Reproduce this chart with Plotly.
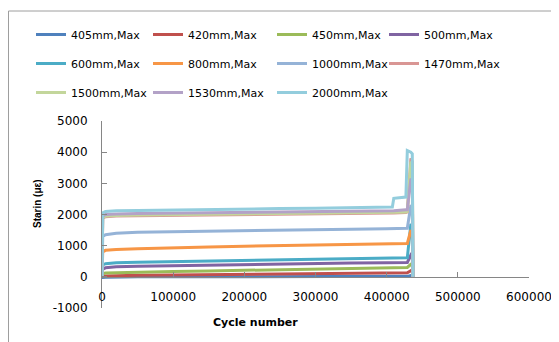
import plotly.graph_objects as go

cycles = [0, 1000, 5000, 20000, 50000, 100000, 150000, 200000, 250000, 300000,
          350000, 400000, 408000, 410000, 427000, 429000, 434000, 436000, 437000]

names = ["405mm,Max", "420mm,Max", "450mm,Max", "500mm,Max",
         "600mm,Max", "800mm,Max", "1000mm,Max", "1470mm,Max",
         "1500mm,Max", "1530mm,Max", "2000mm,Max"]

s405 = [0, -20, -10, 0, 0, 0, 5, 5, 10, 10, 10, 15, 15, 15, 15, 15, 40, 30, 0]
s420 = [0, 20, 30, 40, 50, 60, 70, 80, 90, 100, 110, 120, 125, 130, 130, 130, 200, 180, 0]
s450 = [0, 100, 120, 130, 150, 170, 190, 210, 230, 250, 270, 290, 290, 300, 300, 300, 400, 380, 0]
s500 = [0, 250, 290, 320, 340, 360, 380, 400, 410, 430, 440, 450, 450, 460, 460, 460, 700, 650, 0]
s600 = [0, 380, 420, 450, 470, 490, 510, 530, 550, 570, 590, 600, 600, 610, 610, 610, 1700, 1600, 0]
s800 = [0, 800, 850, 880, 900, 940, 960, 980, 1000, 1020, 1040, 1050, 1060, 1060, 1070, 1070, 1500, 1400, 0]
s1000 = [0, 1300, 1350, 1400, 1430, 1450, 1470, 1480, 1500, 1510, 1530, 1540, 1550, 1550, 1560, 1560, 2300, 2250, 0]
s1470 = [0, 1880, 1930, 1950, 1960, 1970, 1980, 1990, 2000, 2010, 2020, 2030, 2040, 2050, 2060, 2080, 3800, 3700, 0]
s1500 = [0, 1900, 1950, 1970, 1980, 1990, 2000, 2010, 2020, 2030, 2040, 2050, 2060, 2070, 2080, 2100, 3700, 3600, 0]
s1530 = [0, 1950, 2000, 2020, 2030, 2040, 2050, 2060, 2070, 2080, 2090, 2100, 2110, 2120, 2150, 2150, 3150, 3100, 0]
s2000 = [0, 2050, 2100, 2120, 2130, 2150, 2170, 2180, 2190, 2200, 2210, 2230, 2240, 2520, 2560, 4050, 4000, 3950, 0]

series = [s405, s420, s450, s500, s600, s800, s1000, s1470, s1500, s1530, s2000]
colors = ["#4F81BD", "#C0504D", "#9BBB59", "#8064A2", "#4BACC6", "#F79646",
          "#95B3D7", "#D99694", "#C3D69B", "#B3A2C7", "#93CDDD"]

x_ticks = [0, 100000, 200000, 300000, 400000, 500000, 600000]
y_ticks = [-1000, 0, 1000, 2000, 3000, 4000, 5000]

# page has an 8px body margin; work in screen pixels and convert
OFF = 8
W, H = 559 - OFF, 342 - OFF
# plot area in screen pixels: x 102..529, y 121..308
PX0, PX1, PY0, PY1 = 102, 529, 121, 308
L, R, T, B = PX0 - OFF, W - (PX1 - OFF), PY0 - OFF, H - (PY1 - OFF)
pw, ph = PX1 - PX0, PY1 - PY0


def px_x(s):
    return (s - PX0) / pw


def px_y(s):
    return (PY1 - s) / ph


FONT = "DejaVu Sans"
fig = go.Figure()
# one vertical legend per legend column (4 columns, rows wrap)
legend_ids = ["legend", "legend2", "legend3", "legend4"]
for i, (nm, ys, c) in enumerate(zip(names, series, colors)):
    fig.add_trace(go.Scatter(
        x=cycles, y=ys, name=nm, mode="lines",
        line=dict(color=c, width=3),
        legend=legend_ids[i % 4],
        legendgroup=nm,
    ))

leg_common = dict(orientation="v", xanchor="left", yanchor="top",
                  tracegroupgap=10,
                  font=dict(family=FONT, size=11, color="#000000"),
                  bgcolor="rgba(0,0,0,0)", itemclick=False)
col_x = [31, 148, 272, 384]
LEG_TOP = 20
legends = {lid: dict(x=px_x(cx), y=px_y(LEG_TOP), **leg_common)
           for lid, cx in zip(legend_ids, col_x)}

fig.update_layout(
    width=W, height=H,
    margin=dict(l=L, r=R, t=T, b=B, autoexpand=False),
    paper_bgcolor="white", plot_bgcolor="white",
    showlegend=True,
    **legends,
    xaxis=dict(range=[0, 600000], tickvals=x_ticks, ticktext=[str(v) for v in x_ticks],
               anchor="free", position=1 / 6, showline=True, linecolor="#868686",
               linewidth=1, ticks="inside", ticklen=5, tickcolor="#868686",
               showgrid=False, zeroline=False, ticklabelstandoff=9, automargin=False,
               tickfont=dict(family=FONT, size=12, color="#000000")),
    yaxis=dict(range=[-1000, 5000], tickvals=y_ticks, ticktext=[str(v) for v in y_ticks],
               showline=True, linecolor="#868686", linewidth=1, ticks="inside",
               ticklen=5, tickcolor="#868686", showgrid=False, zeroline=False,
               ticklabelstandoff=11, automargin=False,
               tickfont=dict(family=FONT, size=12, color="#000000")),
    shapes=[dict(type="rect", xref="paper", yref="paper",
                 x0=px_x(OFF + 0.5), x1=px_x(580), y0=px_y(360), y1=px_y(11),
                 line=dict(color="#9E9E9E", width=1), fillcolor="rgba(0,0,0,0)",
                 layer="below")],
    annotations=[
        dict(text="<b>Starin (με)</b>", xref="paper", yref="paper",
             x=px_x(37), y=px_y(204), showarrow=False, textangle=-90,
             xanchor="center", yanchor="middle",
             font=dict(family="Liberation Sans", size=10, color="#000000")),
        dict(text="<b>Cycle number</b>", xref="paper", yref="paper",
             x=px_x(255), y=px_y(322), showarrow=False,
             xanchor="center", yanchor="middle",
             font=dict(family=FONT, size=11, color="#000000")),
    ],
)

fig.write_html("out.html")
